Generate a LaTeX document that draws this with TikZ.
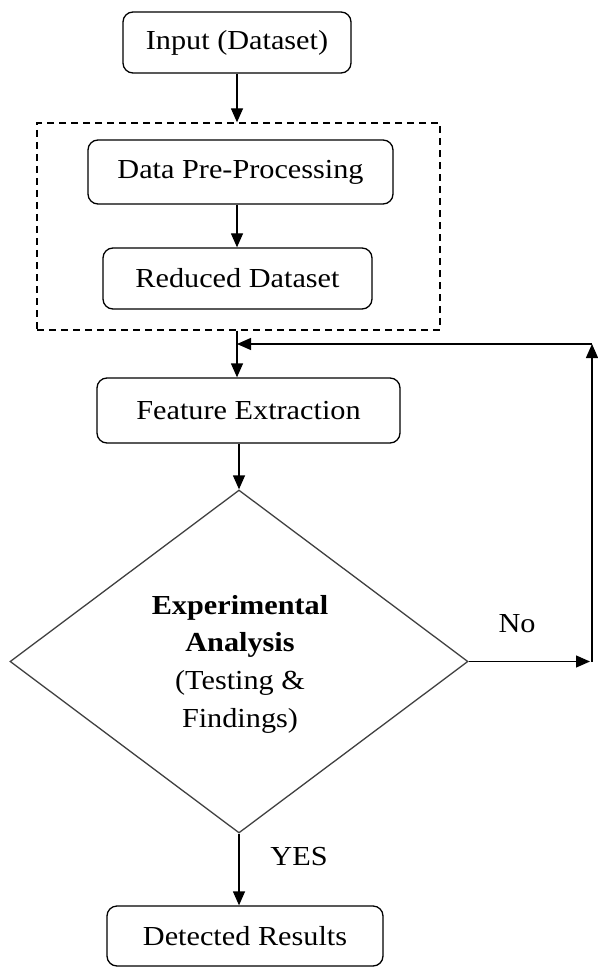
\documentclass[tikz,border=0pt]{standalone}
\usepackage{fontspec}
\usepackage{graphicx}
\setmainfont{Liberation Serif}
\usetikzlibrary{arrows.meta,shapes.geometric}

% slightly widened serif text used throughout the chart
\newcommand{\wide}[1]{\scalebox{1.1}[1]{#1}}

\tikzset{
  procbox/.style={draw=black, line width=1.3pt, rounded corners=10pt, fill=white,
    inner sep=0pt, font=\fontsize{27.5}{38}\selectfont},
  decision/.style={draw=black!75, line width=1.3pt, diamond, inner sep=0pt,
    font=\fontsize{27.5}{38}\selectfont, align=center},
  groupbox/.style={draw=black, line width=1.3pt, dash pattern=on 7pt off 5pt},
  flow/.style={draw=black, line width=1.3pt, -{Triangle[length=14pt,width=12pt]}},
  lbl/.style={font=\fontsize{27.5}{38}\selectfont, inner sep=0pt}
}

\begin{document}
\begin{tikzpicture}[x=1pt, y=-1pt]
  \useasboundingbox (0,0) rectangle (597,968);

  % process boxes
  \node[procbox, minimum width=228pt, minimum height=61pt] (input) at (237,42.5) {\wide{Input (Dataset)}};
  \node[groupbox, minimum width=403pt, minimum height=207pt] (grp) at (238.5,226.5) {};
  \node[procbox, minimum width=305pt, minimum height=64pt] (prep) at (240.5,172) {\wide{Data Pre-Processing}};
  \node[procbox, minimum width=269pt, minimum height=61pt] (reduced) at (237.5,278.5) {\wide{Reduced Dataset}};
  \node[procbox, minimum width=303pt, minimum height=65pt] (feature) at (248.5,410.5) {\wide{Feature Extraction}};

  % decision
  \node[decision, minimum width=458pt, minimum height=343pt, aspect=1.335] (exp) at (239,661.5) {};
  \node[lbl, align=center] (exptext) at (240,664)
    {\wide{\textbf{Experimental}}\\[-1pt]\wide{\textbf{Analysis}}\\\wide{(Testing \&}\\\wide{Findings)}};

  \node[procbox, minimum width=276pt, minimum height=60pt] (result) at (245,936) {\wide{Detected Results}};

  % loop-back points
  \coordinate (loopTR) at (592,344);
  \coordinate (loopBR) at (exp.east -| loopTR);
  \coordinate (loopIn) at (237,344);

  % connectors
  \draw[flow] (input.south) -- (input.south |- grp.north);
  \draw[flow] (input.south |- prep.south) -- (input.south |- reduced.north);
  \draw[flow] (input.south |- grp.south) -- (input.south |- feature.north);
  \draw[flow] (exp.north |- feature.south) -- (exp.north);
  \draw[flow] (exp.south) -- (exp.south |- result.north);

  \draw[flow] (exp.east) -- ([xshift=-2pt]loopBR);
  \draw[flow] (loopBR) -- (loopTR);
  \draw[flow] (loopTR) -- (loopIn);

  % branch labels
  \node[lbl, anchor=base] (no) at (517,632) {\wide{No}};
  \node[lbl, anchor=base] (yes) at (299,865) {\wide{YES}};
\end{tikzpicture}
\end{document}
